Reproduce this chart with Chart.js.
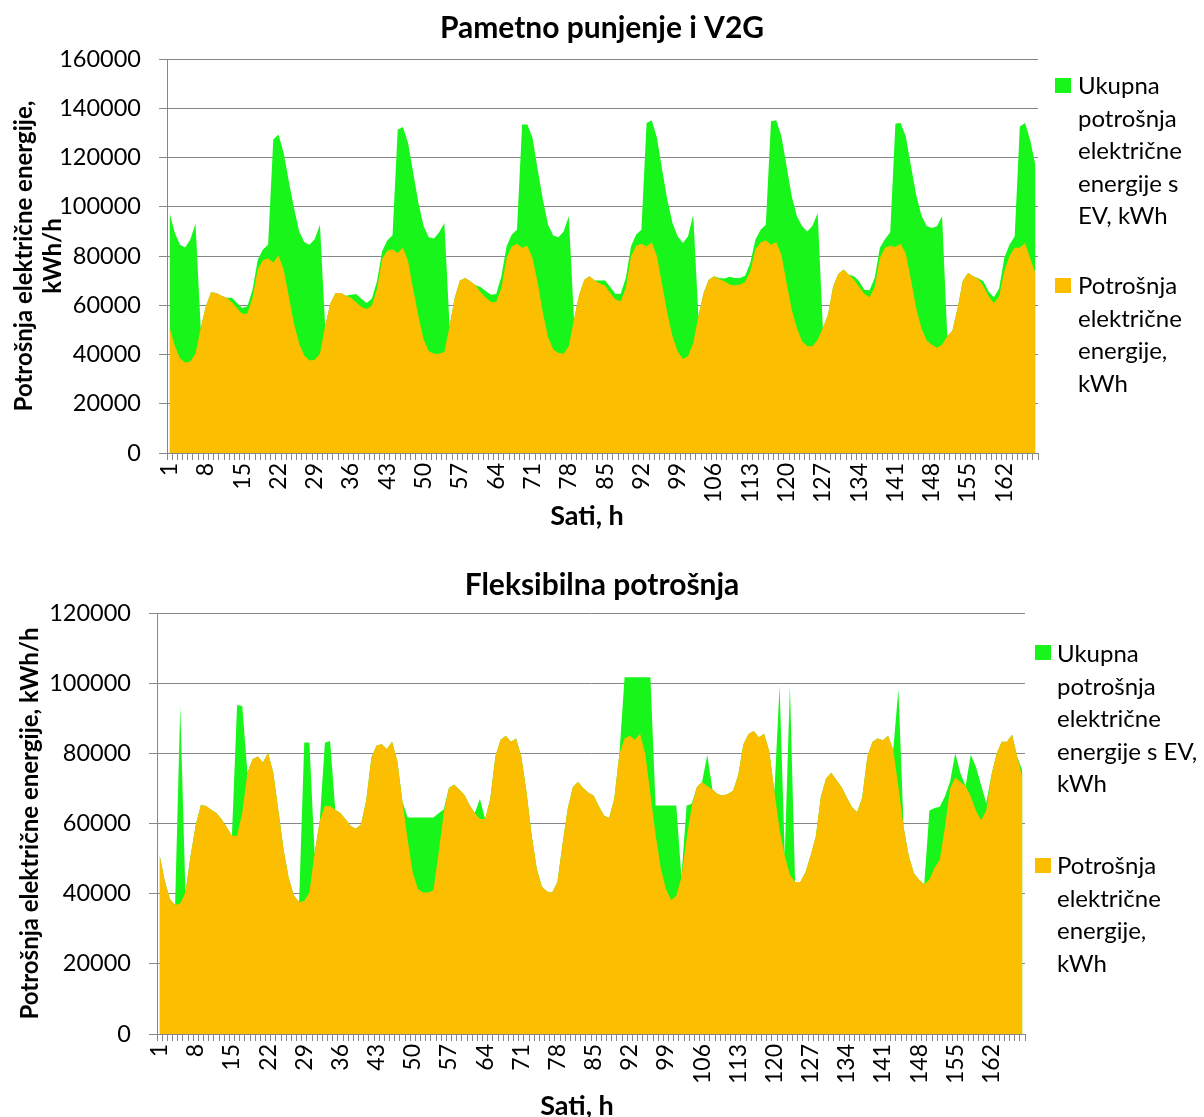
<!DOCTYPE html>
<html>
<head>
<meta charset="utf-8">
<script src="https://cdn.jsdelivr.net/npm/chart.js@4.4.1/dist/chart.umd.min.js"></script>
<style>
    body { margin: 0; background: #fff; font-family: Lato, sans-serif; }
    #wrap { position: relative; width: 1204px; height: 1117px; }
    canvas { position: absolute; left: 0; }
    .legend-text { position: absolute; font-size: 24px; line-height: 32.5px; color: #000; white-space: nowrap; }
    .swatch { position: absolute; width: 16px; height: 15px; }
    .axis-title { position: absolute; width: 200px; text-align: center; font-size: 27px; line-height: 30px; font-weight: bold; color: #000; }
</style>
</head>
<body>
<div id="wrap">
    <canvas id="chartV2G" width="1204" height="540" style="top:0"></canvas>
    <canvas id="chartFlex" width="1204" height="567" style="top:550px"></canvas>
    <div class="axis-title" style="left:487px; top:500px">Sati, h</div>
    <div class="axis-title" style="left:477px; top:1090px">Sati, h</div>
</div>
<script>
// Sati (hours of the week)
const hours = [
    1, 2, 3, 4, 5, 6, 7, 8, 9, 10, 11, 12, 13, 14, 15, 16, 17, 18, 19, 20, 21, 22, 23, 24,
    25, 26, 27, 28, 29, 30, 31, 32, 33, 34, 35, 36, 37, 38, 39, 40, 41, 42, 43, 44, 45, 46, 47, 48,
    49, 50, 51, 52, 53, 54, 55, 56, 57, 58, 59, 60, 61, 62, 63, 64, 65, 66, 67, 68, 69, 70, 71, 72,
    73, 74, 75, 76, 77, 78, 79, 80, 81, 82, 83, 84, 85, 86, 87, 88, 89, 90, 91, 92, 93, 94, 95, 96,
    97, 98, 99, 100, 101, 102, 103, 104, 105, 106, 107, 108, 109, 110, 111, 112, 113, 114, 115, 116, 117, 118, 119, 120,
    121, 122, 123, 124, 125, 126, 127, 128, 129, 130, 131, 132, 133, 134, 135, 136, 137, 138, 139, 140, 141, 142, 143, 144,
    145, 146, 147, 148, 149, 150, 151, 152, 153, 154, 155, 156, 157, 158, 159, 160, 161, 162, 163, 164, 165, 166, 167, 168
];

// Potrošnja električne energije, kWh (same base load in both charts)
const potrosnja = [
    51000, 43600, 38500, 36800, 37200, 40300, 50800, 59600, 65300, 65000, 63900, 63000, 61200, 58900, 56500, 56500, 63000, 74500, 78300, 79100, 77400, 80200, 74500, 63600,
    52500, 44400, 39500, 37600, 37900, 40300, 51500, 60700, 65000, 65000, 63900, 63000, 61200, 59300, 58500, 59800, 66600, 78800, 82200, 82600, 81200, 83300, 77900, 66300,
    55500, 46000, 41300, 40300, 40300, 41000, 51500, 63000, 70100, 71100, 69700, 68100, 65300, 63000, 61300, 61300, 67000, 79200, 83900, 85000, 83300, 84200, 79200, 69100,
    56900, 47100, 42000, 40600, 40300, 43300, 54200, 64300, 70400, 71800, 70100, 68800, 68000, 65000, 62300, 61600, 67000, 79900, 84200, 85000, 83900, 85600, 79900, 68400,
    56900, 47400, 41300, 38200, 39300, 44700, 55500, 65000, 70400, 71800, 70700, 69700, 68400, 68000, 68400, 69300, 73800, 82600, 85500, 86400, 84600, 85600, 80600, 69100,
    58200, 50800, 45400, 43300, 43300, 46000, 50800, 56200, 67700, 72800, 74500, 72400, 70400, 67400, 64700, 63200, 67400, 79200, 83300, 84200, 83700, 85000, 81000, 70400,
    58900, 50800, 45800, 44000, 42700, 44000, 47400, 49700, 58900, 70000, 73100, 71800, 70700, 67700, 63600, 60900, 63600, 73800, 79900, 83300, 83300, 85300, 79000, 73000
];

// Ukupna potrošnja s EV - pametno punjenje i V2G
const ukupnaV2G = [
    97500, 89400, 84600, 83500, 86700, 93200, 50800, 59600, 65300, 65000, 63900, 63000, 63000, 60900, 58900, 59600, 66300, 78500, 82600, 84600, 127300, 129300, 121900, 110300,
    99500, 90000, 85600, 84600, 86900, 92700, 51500, 60700, 65000, 65000, 63900, 64300, 64600, 62600, 60900, 62600, 69700, 81900, 86400, 88400, 131300, 132400, 125900, 113700,
    101500, 92100, 87600, 87100, 89600, 93400, 51500, 63000, 70100, 71100, 69700, 68100, 67400, 65700, 64300, 64600, 71800, 84000, 88700, 90700, 133400, 133400, 128000, 115100,
    102900, 92700, 88300, 87600, 90000, 96100, 54200, 64300, 70400, 71800, 70100, 70100, 70100, 67400, 64600, 64700, 71100, 84000, 88700, 90700, 134000, 135100, 128000, 115100,
    102900, 93400, 88000, 85300, 88000, 96800, 55500, 65000, 70400, 71800, 71100, 70900, 71600, 71100, 71100, 72000, 77200, 86700, 90700, 92700, 134700, 135100, 128700, 116500,
    104300, 96100, 92100, 90000, 92300, 97500, 50800, 56200, 67700, 72800, 74500, 72400, 71800, 69700, 66300, 66100, 71100, 83300, 86900, 89600, 133800, 134000, 128500, 116500,
    104900, 96500, 92300, 91400, 92100, 96100, 47400, 49700, 58900, 70000, 73100, 71800, 71000, 69600, 65500, 63200, 66800, 79300, 84600, 88000, 132600, 134000, 127000, 117000
];

// Ukupna potrošnja s EV - fleksibilna potrošnja
const ukupnaFlex = [
    51000, 43600, 38500, 36800, 93300, 40300, 50800, 59600, 65300, 65000, 63900, 63000, 61200, 58900, 56500, 93800, 93500, 74500, 78300, 79100, 77400, 80200, 74500, 63600,
    52500, 44400, 39500, 37600, 83100, 83100, 51500, 60700, 83000, 83500, 63900, 63000, 61200, 59300, 58500, 59800, 66600, 78800, 82200, 82600, 81200, 83300, 77900, 66300,
    61700, 61700, 61700, 61700, 61700, 61700, 62900, 64000, 70100, 71100, 69700, 68100, 65300, 63000, 67000, 61300, 67000, 79200, 83900, 85000, 83300, 84200, 79200, 69100,
    56900, 47100, 42000, 40600, 40300, 43300, 54200, 64300, 70400, 71800, 70100, 68800, 68000, 65000, 62300, 61600, 67000, 79900, 101700, 101700, 101700, 101700, 101700, 101700,
    65100, 65100, 65100, 65100, 65100, 44700, 65100, 65600, 70400, 71800, 79600, 69700, 68400, 68000, 68400, 69300, 73800, 82600, 85500, 86400, 84600, 85600, 80600, 69100,
    99200, 50800, 99200, 43300, 43300, 46000, 50800, 56200, 67700, 72800, 74500, 72400, 70400, 67400, 64700, 63200, 67400, 79200, 83300, 84200, 83700, 85000, 81000, 98300,
    58900, 50800, 45800, 44000, 42700, 63700, 64400, 64800, 67700, 72000, 80000, 74300, 70700, 79600, 76200, 71000, 65800, 73800, 79900, 83300, 83300, 85300, 79000, 75000
];

const greenColor = '#17F51A';
const orangeColor = '#FCBE00';
const gridColor = '#878787';

Chart.defaults.font.family = 'Lato';
Chart.defaults.color = '#000';

function makeChart(id, cfg) {
    const ctx = document.getElementById(id).getContext('2d');
    return new Chart(ctx, {
        type: 'line',
        data: {
            labels: hours,
            datasets: [{
                label: 'Ukupna potrošnja električne energije s EV, kWh',
                data: cfg.total,
                yAxisID: 'y',
                backgroundColor: greenColor,
                borderWidth: 0,
                pointRadius: 0,
                fill: 'origin',
                tension: 0,
                order: 2
            }, {
                label: 'Potrošnja električne energije, kWh',
                data: potrosnja,
                yAxisID: 'y',
                backgroundColor: orangeColor,
                borderWidth: 0,
                pointRadius: 0,
                fill: 'origin',
                tension: 0,
                order: 1
            }]
        },
        options: {
            responsive: false,
            animation: false,
            layout: { padding: 0 },
            plugins: {
                legend: { display: false },
                tooltip: { enabled: false },
                title: {
                    display: true,
                    text: cfg.title,
                    color: '#000',
                    font: { size: 30, weight: 'bold', lineHeight: 1 },
                    padding: cfg.titlePad
                }
            },
            scales: {
                x: {
                    offset: true,
                    afterFit: s => { s.height = cfg.xHeight; },
                    grid: { display: true, drawOnChartArea: false, drawTicks: true, tickLength: 7, offset: true, color: gridColor },
                    border: { display: true, color: gridColor },
                    ticks: {
                        autoSkip: false,
                        minRotation: 90,
                        maxRotation: 90,
                        padding: 3,
                        font: { size: 23 },
                        callback: function(val, idx) {
                            return idx % 7 === 0 ? this.getLabelForValue(val) : '';
                        }
                    }
                },
                y: {
                    min: 0,
                    max: cfg.yMax,
                    afterFit: s => { s.width = cfg.yWidth; },
                    grid: { color: gridColor, tickLength: 8 },
                    border: { display: true, color: gridColor },
                    ticks: {
                        stepSize: 20000,
                        padding: 18,
                        font: { size: 23.5 },
                        callback: v => String(v)
                    },
                    title: {
                        display: true,
                        text: cfg.yTitle,
                        font: { size: 24, weight: 'bold', lineHeight: 1.2 },
                        padding: { top: cfg.yTitleTop, bottom: 0 }
                    }
                },
                // empty box on the right that keeps room for the legend
                legendSpace: {
                    type: 'linear',
                    axis: 'y',
                    position: 'right',
                    grid: { display: false },
                    border: { display: false },
                    ticks: { display: false },
                    afterFit: s => { s.width = cfg.padRight; }
                }
            }
        }
    });
}

makeChart('chartV2G', {
    total: ukupnaV2G,
    title: 'Pametno punjenje i V2G',
    yMax: 160000,
    yTitle: ['Potrošnja električne energije,', 'kWh/h'],
    padRight: 166,
    titlePad: { top: 13, bottom: 16 },
    xHeight: 87,
    yWidth: 167,
    yTitleTop: 10
});

makeChart('chartFlex', {
    total: ukupnaFlex,
    title: 'Fleksibilna potrošnja',
    yMax: 120000,
    yTitle: 'Potrošnja električne energije, kWh/h',
    padRight: 179,
    titlePad: { top: 20, bottom: 13 },
    xHeight: 83,
    yWidth: 157,
    yTitleTop: 16
});

// HTML legends (wrapped text like the original)
const legendV2G = [
    { color: greenColor, lines: ['Ukupna', 'potrošnja', 'električne', 'energije s', 'EV, kWh'], box: [1055, 78], text: [1078, 69] },
    { color: orangeColor, lines: ['Potrošnja', 'električne', 'energije,', 'kWh'], box: [1055, 278], text: [1078, 269] }
];
const legendFlex = [
    { color: greenColor, lines: ['Ukupna', 'potrošnja', 'električne', 'energije s EV,', 'kWh'], box: [1035, 645], text: [1057, 637] },
    { color: orangeColor, lines: ['Potrošnja', 'električne', 'energije,', 'kWh'], box: [1035, 858], text: [1057, 849] }
];

function drawLegend(items) {
    const wrap = document.getElementById('wrap');
    items.forEach(item => {
        const sw = document.createElement('div');
        sw.className = 'swatch';
        sw.style.left = item.box[0] + 'px';
        sw.style.top = item.box[1] + 'px';
        sw.style.background = item.color;
        wrap.appendChild(sw);
        const txt = document.createElement('div');
        txt.className = 'legend-text';
        txt.style.left = item.text[0] + 'px';
        txt.style.top = item.text[1] + 'px';
        txt.innerHTML = item.lines.join('<br>');
        wrap.appendChild(txt);
    });
}
drawLegend(legendV2G);
drawLegend(legendFlex);
</script>
</body>
</html>
